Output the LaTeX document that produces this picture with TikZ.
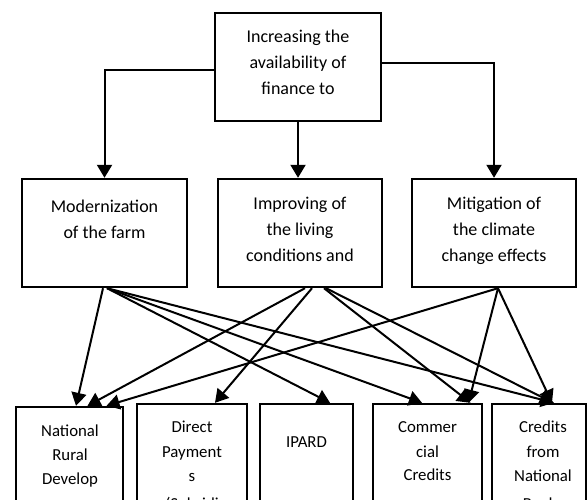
\documentclass[tikz,border=0pt]{standalone}
\usepackage{fontspec}
\setmainfont{Carlito}
\usetikzlibrary{arrows.meta}
\begin{document}
\begin{tikzpicture}[x=1pt,y=-1pt,
  box/.style={draw, line width=2.4pt, inner sep=0pt},
  arr/.style={line width=2pt, -{Triangle[width=15pt,length=13pt]}},
  lbl/.style={inner sep=0pt, anchor=base, font=\fontsize{18}{26}\selectfont},
  blbl/.style={lbl, font=\fontsize{16.8}{24}\selectfont}]
\useasboundingbox (0,0) rectangle (587,499);
\fill[white] (0,0) rectangle (587,499);
% boxes
\node[box, minimum width=166pt, minimum height=108pt] (top) at (298,67) {};
\node[box, minimum width=165pt, minimum height=108pt] (m1) at (104.5,233) {};
\node[box, minimum width=164pt, minimum height=108pt] (m2) at (300,233) {};
\node[box, minimum width=164pt, minimum height=108pt] (m3) at (494,233) {};
\node[box, minimum width=107pt, minimum height=133pt] (b1) at (69.5,473.5) {};
\node[box, minimum width=110pt, minimum height=136pt] (b2) at (192,472) {};
\node[box, minimum width=93pt, minimum height=136pt] (b3) at (306.5,472) {};
\node[box, minimum width=109pt, minimum height=136pt] (b4) at (427.5,472) {};
\node[box, minimum width=94pt, minimum height=136pt] (b5) at (539,472) {};
% texts
\node[lbl] (tt1) at (298,42) {Increasing the};
\node[lbl] (tt2) at (298,68) {availability of};
\node[lbl] (tt3) at (298,94) {finance to};
\node[lbl] (ta1) at (104.5,212) {Modernization};
\node[lbl] (ta2) at (104.5,238) {of the farm};
\node[lbl] (tb1) at (300,209) {Improving of};
\node[lbl] (tb2) at (300,235) {the living};
\node[lbl] (tb3) at (300,261) {conditions and};
\node[lbl] (tc1) at (494,209) {Mitigation of};
\node[lbl] (tc2) at (494,235) {the climate};
\node[lbl] (tc3) at (494,261) {change effects};
\node[blbl] (td1) at (70,436) {National};
\node[blbl] (td2) at (70,460) {Rural};
\node[blbl] (td3) at (70,484) {Develop};
\node[blbl] (te1) at (192,432) {Direct};
\node[blbl] (te2) at (192,457) {Payment};
\node[blbl] (te3) at (192,481) {s};
\node[blbl] (te4) at (192,509) {(Subsidi};
\node[blbl] (tf1) at (306.5,447) {IPARD};
\node[blbl] (tg1) at (427.5,432) {Commer};
\node[blbl] (tg2) at (427.5,457) {cial};
\node[blbl] (tg3) at (427.5,480) {Credits};
\node[blbl] (th1) at (543,432) {Credits};
\node[blbl] (th2) at (543,457) {from};
\node[blbl] (th3) at (543,481) {National};
\node[blbl] (th4) at (543,509) {Banks};
% top connectors
\draw[arr] ([yshift=-3pt]top.west) -| (m1.north);
\draw[arr] ([yshift=4pt]top.east) -| (m3.north);
\draw[arr] (top.south) -- (top.south |- m2.north);
% lower connectors
\draw[arr] ([xshift=-1.5pt]m1.south) -- ([xshift=6.5pt]b1.north);
\draw[arr] ([xshift=2.5pt]m1.south) -- ([xshift=23.5pt]b3.north);
\draw[arr] ([xshift=2.5pt]m1.south) -- ([xshift=-5.5pt]b4.north);
\draw[arr] ([xshift=2.5pt]m1.south) -- ([xshift=15pt]b5.north);
\draw[arr] ([xshift=5pt]m2.south) -- ([xshift=18pt]b1.north);
\draw[arr] ([xshift=12pt]m2.south) -- ([xshift=23pt]b2.north);
\draw[arr] ([xshift=24pt]m2.south) -- ([xshift=43pt]b4.north);
\draw[arr] ([xshift=26pt]m2.south) -- ([xshift=14pt]b5.north);
\draw[arr] ([xshift=4pt]m3.south) -- ([xshift=37pt]b1.north);
\draw[arr] ([xshift=4pt]m3.south) -- ([xshift=41pt]b4.north);
\draw[arr] ([xshift=4pt]m3.south) -- ([xshift=13pt]b5.north);
\end{tikzpicture}
\end{document}
